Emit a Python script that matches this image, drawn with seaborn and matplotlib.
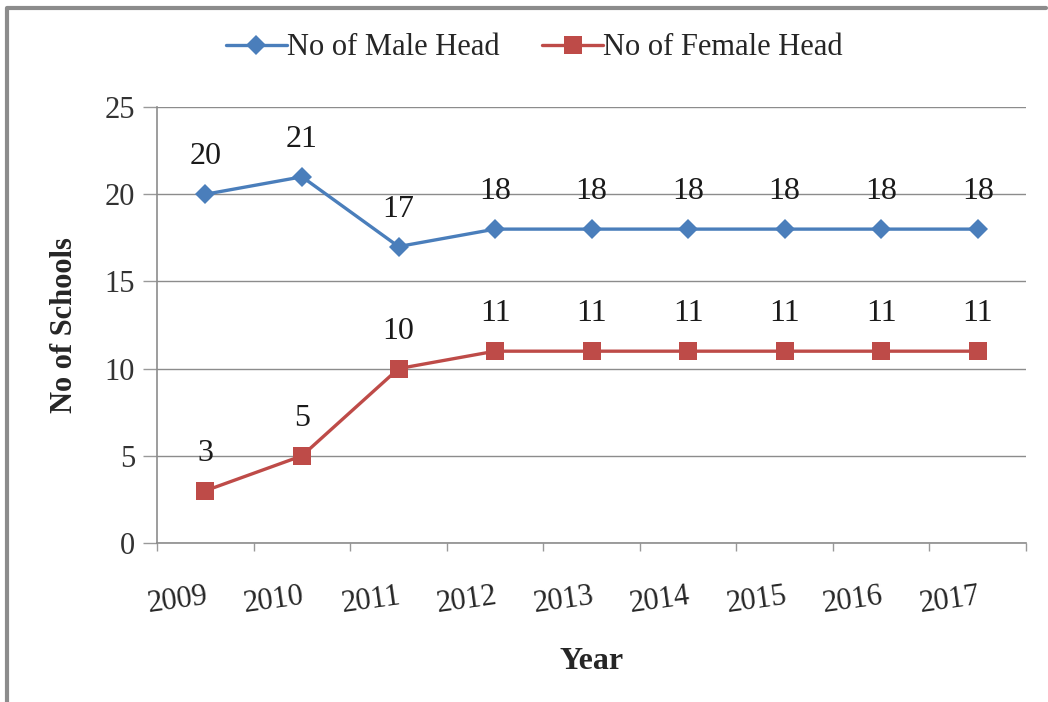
import matplotlib.pyplot as plt
from matplotlib.lines import Line2D
import seaborn as sns
import pandas as pd
import numpy as np

years = ["2009", "2010", "2011", "2012", "2013", "2014", "2015", "2016", "2017"]
male_head = [20, 21, 17, 18, 18, 18, 18, 18, 18]
female_head = [3, 5, 10, 11, 11, 11, 11, 11, 11]

male_name = "No of Male Head"
female_name = "No of Female Head"

sns.set_theme(style="white")
plt.rcParams.update({
    "font.family": ["Liberation Serif", "DejaVu Serif"],
    "font.size": 22,
})


def main():
    df = pd.DataFrame({
        "pos": list(range(len(years))) * 2,
        "Count": male_head + female_head,
        "Series": [male_name] * len(years) + [female_name] * len(years),
    })

    fig = plt.figure(figsize=(10.48, 7.02), dpi=100)
    ax = fig.add_axes([0.150, 0.2265, 0.829, 0.621])

    colors = {male_name: "#4A7EBB", female_name: "#BE4B48"}
    sns.lineplot(
        data=df, x="pos", y="Count", hue="Series", style="Series",
        markers={male_name: "D", female_name: "s"}, dashes=False,
        palette=colors, linewidth=2.4, markersize=13,
        markeredgewidth=0, ax=ax,
    )
    # diamond a bit smaller than the square
    for line in ax.get_lines():
        if line.get_marker() == "D":
            line.set_markersize(10)

    # data labels above the points
    for vals in (male_head, female_head):
        for i, v in enumerate(vals):
            ax.annotate(str(v), (i, v), xytext=(0, 27), textcoords="offset points",
                        ha="center", va="center", fontsize=23, color="#1a1a1a")

    ax.set_xlim(-0.5, len(years) - 0.5)
    ax.set_ylim(0, 25)
    ax.set_yticks(np.arange(0, 26, 5))
    ax.set_xticks(range(len(years)))
    ax.set_xticklabels(years, rotation=8, fontsize=22, ha="right", rotation_mode="anchor")
    ax.set_xticks(np.arange(-0.5, len(years), 1.0), minor=True)
    ax.tick_params(axis="x", which="major", length=0, pad=28)
    ax.tick_params(axis="x", which="minor", length=6, width=1, color="#999999",
                   direction="out", bottom=True)
    ax.tick_params(axis="y", length=10, width=1, color="#999999", direction="out",
                   left=True, labelsize=22, pad=6)
    for lab in ax.get_yticklabels():
        lab.set_color("#333333")

    ax.grid(axis="y", color="#8c8c8c", linewidth=1)
    ax.set_axisbelow(True)
    for side in ("top", "right"):
        ax.spines[side].set_visible(False)
    for side in ("left", "bottom"):
        ax.spines[side].set_color("#8c8c8c")
        ax.spines[side].set_linewidth(1.2)

    ax.set_xlabel("Year", fontsize=23, fontweight="bold", labelpad=20)
    ax.set_ylabel("No of Schools", fontsize=22, fontweight="bold", labelpad=18)

    handles, labels = ax.get_legend_handles_labels()
    ax.legend(handles, labels, loc="center", bbox_to_anchor=(0.51, 0.932),
              bbox_transform=fig.transFigure, ncol=2, frameon=False,
              fontsize=22, handlelength=2.0, handletextpad=0.0, columnspacing=1.4)

    # frame edges of the pasted chart (only top and left visible)
    fig.lines.append(Line2D([0.007, 0.007, 0.998], [0.0, 0.988, 0.988],
                            transform=fig.transFigure, color="#8c8c8c", linewidth=3))

    fig.savefig("out.png", dpi=100)


if __name__ == "__main__":
    main()
